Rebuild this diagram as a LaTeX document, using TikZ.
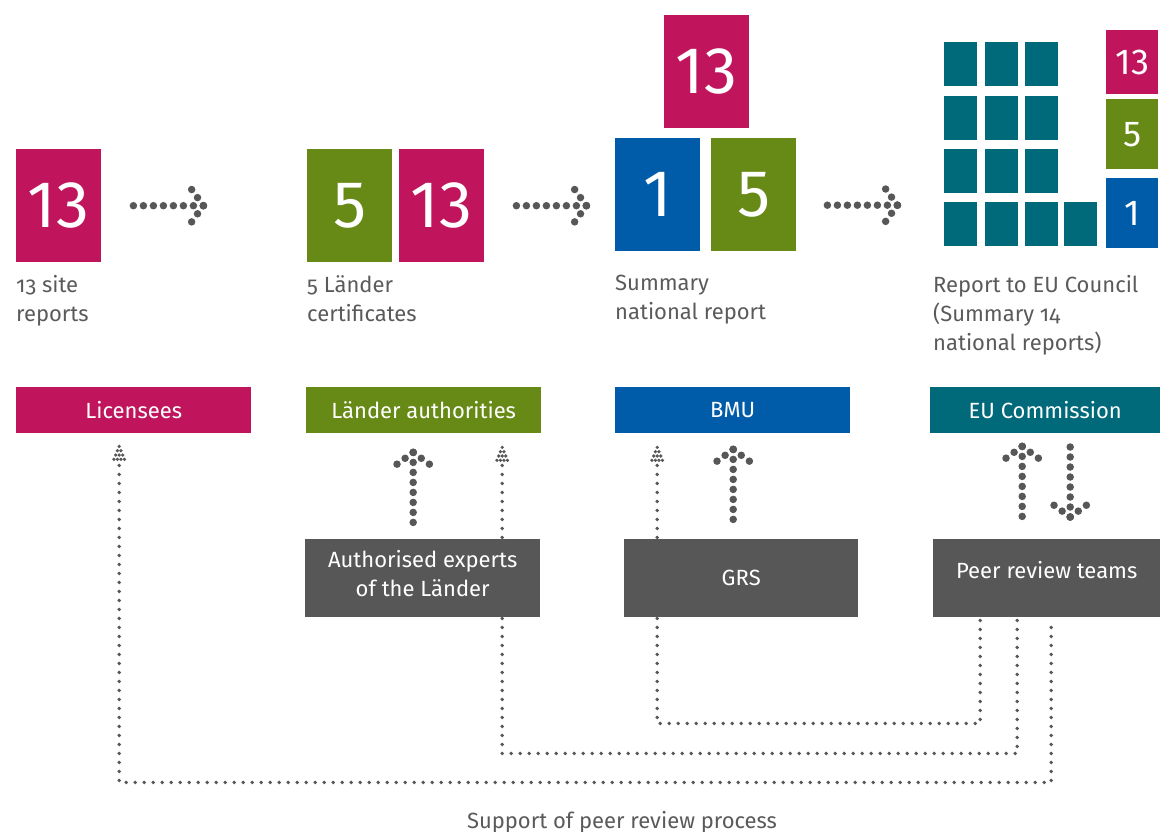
\documentclass[tikz,border=0pt]{standalone}
\usepackage{fontspec}
\setmainfont{Fira Sans}[Numbers=OldStyle]
\newfontfamily\digitfont{Fira Sans}[Numbers=Lining]
\usetikzlibrary{positioning,calc,backgrounds}

\definecolor{rmagenta}{HTML}{C0155C}
\definecolor{rgreen}{HTML}{678A16}
\definecolor{rblue}{HTML}{005CA9}
\definecolor{rteal}{HTML}{006A7A}
\definecolor{rgrey}{HTML}{575757}
\definecolor{rtext}{HTML}{5A5A5A}

% big chevron arrow made of dots, drawn from tip to tail
\newcommand\bigarrow[2]{%
  \draw[bigdots] (#1) -- (#2);
  \draw[bigdots] (#1) -- ($(#1)!29pt!54:(#2)$);
  \draw[bigdots] (#1) -- ($(#1)!29pt!-54:(#2)$);
}

\begin{document}
\begin{tikzpicture}[
    x=1pt, y=-1pt,
    tile/.style={anchor=north west, inner sep=0pt, minimum width=85pt, minimum height=113pt,
      text=white, font=\digitfont\fontsize{66}{66}\selectfont},
    minitile/.style={anchor=north west, inner sep=0pt, minimum width=52pt,
      text=white, font=\digitfont\fontsize{36}{36}\selectfont},
    cell/.style={anchor=north west, inner sep=0pt, minimum width=33pt, minimum height=44pt, fill=rteal},
    caption/.style={anchor=north west, inner sep=0pt, align=left, text=rtext,
      font=\fontsize{22}{29}\selectfont},
    bar/.style={anchor=north west, inner sep=0pt, minimum height=46pt, text=white,
      font=\fontsize{22}{29}\selectfont},
    panel/.style={anchor=north west, inner sep=0pt, minimum height=78pt, fill=rgrey, text=white,
      align=center, font=\fontsize{22}{29}\selectfont},
    bigdots/.style={draw=rgrey, line width=7.5pt, line cap=round, dash pattern=on 0pt off 10pt},
    smalldots/.style={draw=rgrey, line width=3.8pt, line cap=round, dash pattern=on 0pt off 9pt},
    dothead/.pic={
      \foreach \r in {0,...,3}
        \foreach \c in {0,...,\r}
          \fill[rgrey] ({(\c-\r/2)*3.5},{\r*4.3}) circle (1.8);
    }
  ]
  \useasboundingbox (0,0) rectangle (1160,832);

  % report tiles
  \node[tile, fill=rmagenta] (t1) at (16,149) {13};
  \node[tile, fill=rgreen] (t2) at (307,149) {5};
  \node[tile, fill=rmagenta] (t3) at (399,149) {13};
  \node[tile, fill=rmagenta] (t4) at (664,15) {13};
  \node[tile, fill=rblue] (t5) at (615,138) {1};
  \node[tile, fill=rgreen] (t6) at (711,138) {5};

  % EU member states
  \foreach \y in {42,96,149,202}
    \foreach \x in {944,985,1025}
      \node[cell] at (\x,\y) {};
  \node[cell] at (1064,202) {};
  \node[minitile, fill=rmagenta, minimum height=64pt] (m1) at (1106,30) {13};
  \node[minitile, fill=rgreen, minimum height=70pt] (m2) at (1106,99) {5};
  \node[minitile, fill=rblue, minimum height=70pt] (m3) at (1106,178) {1};

  \node[caption] (c1) at (16,275) {13 site\\reports};
  \node[caption] (c2) at (307,275) {5 Länder\\certificates};
  \node[caption] (c3) at (615,275) {Summary\\national report};
  \node[caption] (c4) at (933,275) {Report to EU Council\\(Summary 14\\national reports)};

  % flow between stages
  \coordinate (a1tip) at ($(t1.east)+(102,0)$);
  \coordinate (a1end) at ($(t1.east)+(31.5,0)$);
  \coordinate (a2tip) at ($(t3.east)+(102,0)$);
  \coordinate (a2end) at ($(t3.east)+(31,0)$);
  \coordinate (a3tip) at ($(t6.east)+(101,10.5)$);
  \coordinate (a3end) at ($(t6.east)+(30.5,10.5)$);
  \bigarrow{a1tip}{a1end}
  \bigarrow{a2tip}{a2end}
  \bigarrow{a3tip}{a3end}

  % responsible bodies
  \node[bar, fill=rmagenta, minimum width=235pt] (licensees) at (16,387) {Licensees};
  \node[bar, fill=rgreen, minimum width=235pt] (laender) at (306,387) {Länder authorities};
  \node[bar, fill=rblue, minimum width=235pt] (bmu) at (615,387) {BMU};
  \node[bar, fill=rteal, minimum width=230pt] (eucom) at (930,387) {EU Commission};

  \node[panel, minimum width=235pt] (experts) at (305,539) {Authorised experts\\of the Länder\\[-19pt]\mbox{}};
  \node[panel, minimum width=234pt] (grs) at (624,539) {GRS};
  \node[panel, minimum width=227pt] (peers) at (933,539) {Peer review teams\\[-13pt]\mbox{}};

  \node[text=rtext, font=\fontsize{22}{29}\selectfont] (support) at (622,822) {Support of peer review process};

  % support arrows
  \coordinate (e1tip) at ($(laender.south)+(-10.5,19)$);
  \coordinate (e1end) at ($(experts.north)+(-9.5,-15.5)$);
  \coordinate (g1tip) at ($(bmu.south)+(0.5,16)$);
  \coordinate (g1end) at ($(grs.north)+(-8,-18.5)$);
  \coordinate (p1tip) at ($(eucom.south)+(-23,13)$);
  \coordinate (p1end) at ($(peers.north)+(-24.5,-21.5)$);
  \coordinate (p2tip) at ($(peers.north)+(23.5,-22)$);
  \coordinate (p2end) at ($(eucom.south)+(25,12.5)$);
  \bigarrow{e1tip}{e1end}
  \bigarrow{g1tip}{g1end}
  \bigarrow{p1tip}{p1end}
  \bigarrow{p2tip}{p2end}

  % peer review feedback loops
  \begin{scope}[on background layer]
    \draw[smalldots] ($(licensees.south)+(-14.5,32)$) -- ++(0,317) -| ($(peers.south)+(4.5,3)$);
    \draw[smalldots] ($(laender.south)+(78.5,32)$) -- ++(0,288) -| ($(peers.south)+(-29.5,3)$);
    \draw[smalldots] ($(bmu.south)+(-75.5,32)$) -- ++(0,258) -| ($(peers.south)+(-66.5,3)$);
  \end{scope}
  \pic at ($(licensees.south)+(-14.5,13)$) {dothead};
  \pic at ($(laender.south)+(78.5,14)$) {dothead};
  \pic at ($(bmu.south)+(-75.5,14)$) {dothead};
\end{tikzpicture}
\end{document}
